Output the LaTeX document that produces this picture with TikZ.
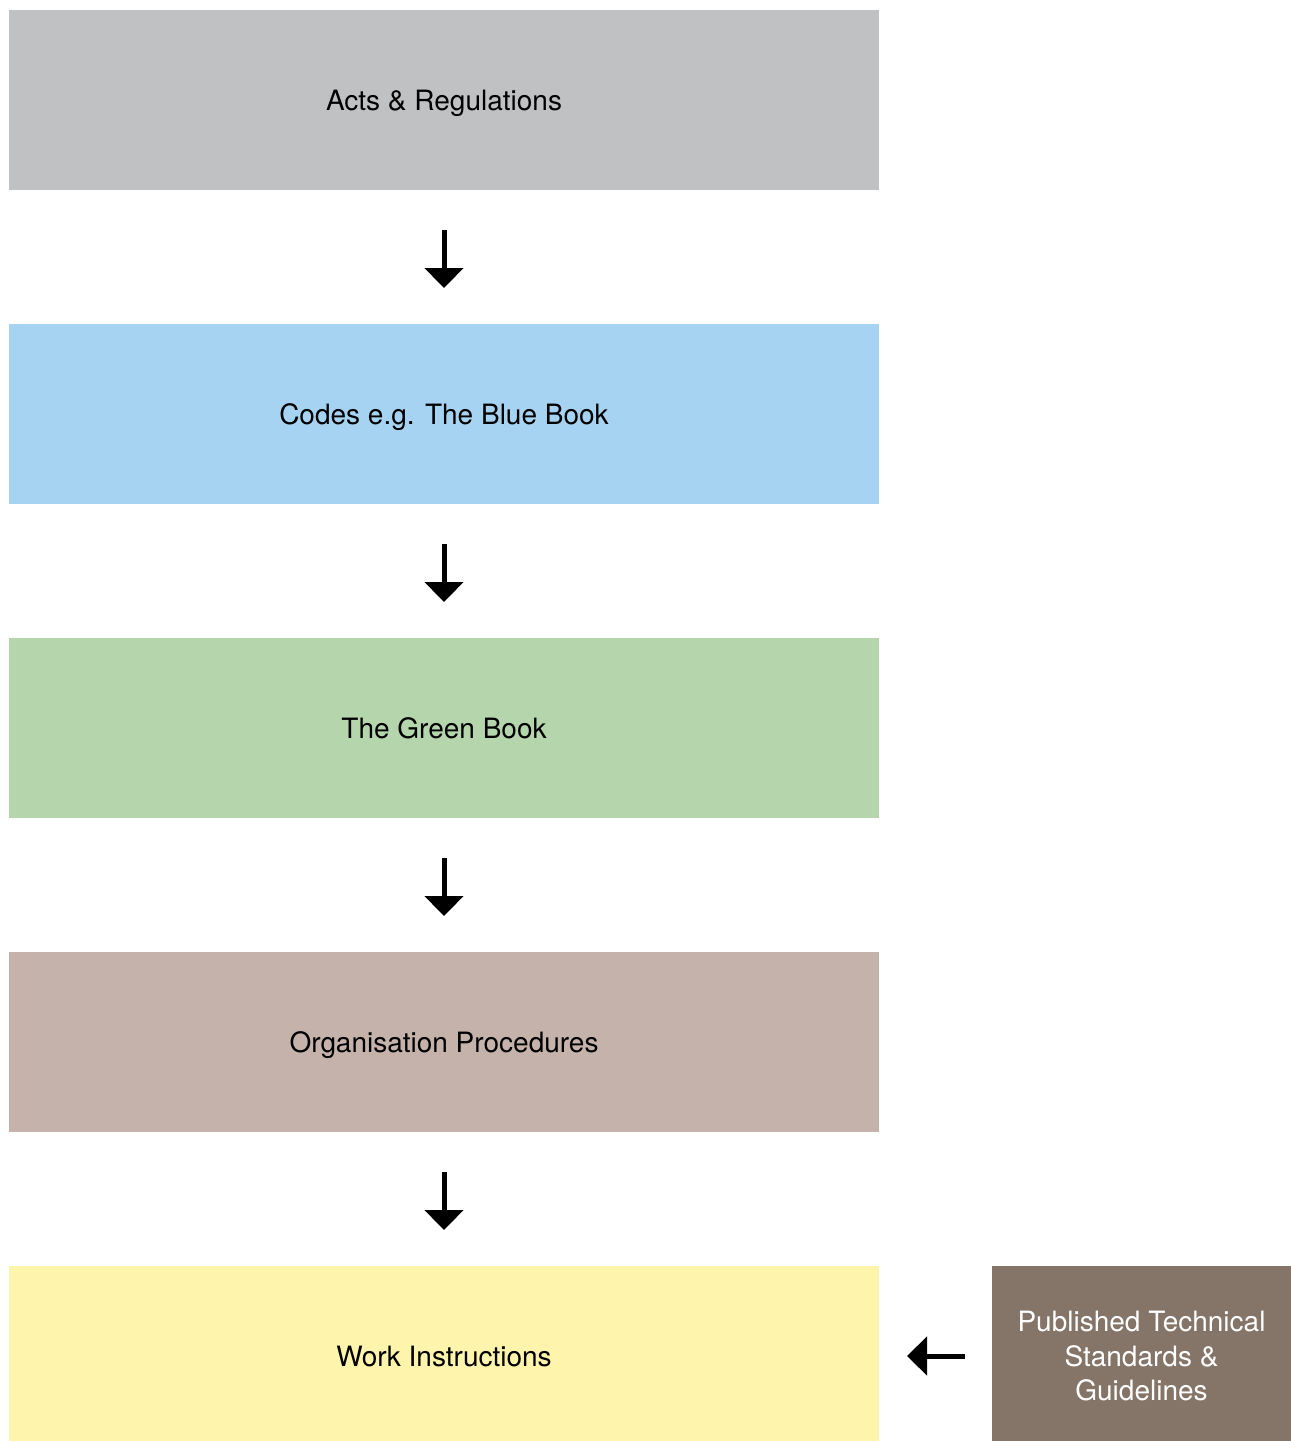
\documentclass[tikz,border=0pt]{standalone}
\usepackage{fontspec}
\setmainfont{TeX Gyre Heros}
\usetikzlibrary{positioning,arrows.meta}
\definecolor{actsgray}{HTML}{C0C1C3}
\definecolor{codesblue}{HTML}{A6D3F1}
\definecolor{greenbook}{HTML}{B5D6AC}
\definecolor{orgtan}{HTML}{C5B3AB}
\definecolor{workyellow}{HTML}{FFF4AB}
\definecolor{stdbrown}{HTML}{857468}
\begin{document}
\begin{tikzpicture}[
    level/.style={minimum width=870pt, minimum height=180pt, inner sep=0pt, outer sep=0pt,
      text depth=0pt, font=\fontsize{28}{34.5}\selectfont},
    down/.style={line width=5pt, -{Triangle[width=38pt,length=20pt]}, shorten <=40pt, shorten >=36pt},
    node distance=134pt
  ]
  \useasboundingbox (0,0) rectangle (1291pt,-1441pt);
  \node[level, fill=actsgray] (acts) at (444pt,-100pt) {Acts \& Regulations};
  \node[level, fill=codesblue, below=of acts] (codes) {Codes e.g. The Blue Book};
  \node[level, fill=greenbook, below=of codes] (green) {The Green Book};
  \node[level, fill=orgtan, below=of green] (orgs) {Organisation Procedures};
  \node[level, fill=workyellow, below=of orgs] (work) {Work Instructions};
  \node[level, fill=stdbrown, text=white, align=center, minimum width=299pt,
    right=113pt of work] (std) {Published Technical\\Standards \&\\Guidelines};

  \draw[down] (acts) -- (codes);
  \draw[down] (codes) -- (green);
  \draw[down] (green) -- (orgs);
  \draw[down] (orgs) -- (work);
  \draw[down, shorten <=27pt, shorten >=28pt] (std) -- (work);
\end{tikzpicture}
\end{document}
